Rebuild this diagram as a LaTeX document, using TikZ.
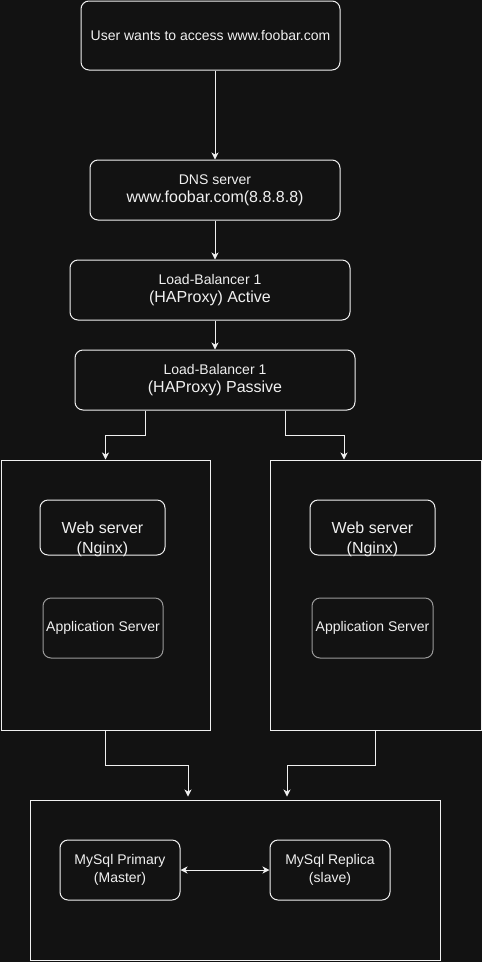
\documentclass[tikz,border=0pt]{standalone}
\usepackage{fontspec}
\setmainfont{Liberation Sans}
\usetikzlibrary{arrows.meta,positioning}
\definecolor{bgdark}{HTML}{121212}
\definecolor{fgline}{HTML}{F0F0F0}
\definecolor{fgdim}{HTML}{9A9A9A}
\newcommand{\lgtxt}[1]{{\fontsize{16}{18}\selectfont #1}}
\tikzset{
	basic/.style  = {draw=fgline, line width=1pt, text=fgline, align=center, inner sep=0pt,
		font=\fontsize{14}{18}\selectfont, rectangle, execute at begin node={\vspace*{4pt}}},
	rbox/.style   = {basic, rounded corners=8pt},
	frame/.style  = {basic},
	appbox/.style = {rbox, draw=fgdim},
	webtext/.style = {draw=none, text=fgline, align=center, yshift=-11.5pt,
		font=\fontsize{16}{20}\selectfont},
	arr/.style    = {->, draw=fgline, line width=1pt}
}

\begin{document}
\begin{tikzpicture}[
x=1pt, y=-1pt,
>={Stealth[length=7pt,width=7pt,inset=2pt]}]

% background and page size
\fill[bgdark] (0,0) rectangle (482,962);
\useasboundingbox (0,0) rectangle (482,962);

% request path
\node[rbox, minimum width=259pt, minimum height=69pt] (user) at (210.5,35.5) {User wants to access www.foobar.com};
\node[rbox, minimum width=250pt, minimum height=60pt] (dns) at (215,190) {DNS server\\\lgtxt{www.foobar.com(8.8.8.8)}};
\node[rbox, minimum width=280pt, minimum height=60pt] (lbact) at (210,290) {Load-Balancer 1\\\lgtxt{(HAProxy) Active}};
\node[rbox, minimum width=280pt, minimum height=60pt] (lbpas) at (215,380) {Load-Balancer 1\\\lgtxt{(HAProxy) Passive}};

% the two server frames
\node[frame, minimum width=209pt, minimum height=270pt] (srvL) at (105.5,595) {};
\node[frame, minimum width=211pt, minimum height=270pt] (srvR) at (375.5,595) {};
\node[rbox, minimum width=125pt, minimum height=55pt,
	label={[webtext]center:{Web server\\(Nginx)}}] (webL) at (102.5,527.5) {};
\node[appbox, minimum width=120pt, minimum height=60pt] (appL) at (103,628) {Application Server};
\node[rbox, minimum width=125pt, minimum height=55pt,
	label={[webtext]center:{Web server\\(Nginx)}}] (webR) at (372.5,527.5) {};
\node[appbox, minimum width=121pt, minimum height=60pt] (appR) at (372.5,628) {Application Server};

% database frame
\node[frame, minimum width=410pt, minimum height=160pt] (db) at (235,880) {};
\node[rbox, minimum width=120pt, minimum height=60pt] (master) at (120,870) {MySql Primary\\(Master)};
\node[rbox, minimum width=120pt, minimum height=60pt] (replica) at (330,870) {MySql Replica\\(slave)};

% connectors
\draw[arr] (user.south -| dns.north) -- (dns.north);
\draw[arr] (dns.south) -- (dns.south |- lbact.north);
\draw[arr] (lbact.south -| lbpas.north) -- (lbpas.north);
\draw[arr] ([xshift=-70pt]lbpas.south) -- ++(0,25) -| (srvL.north);
\draw[arr] ([xshift=70pt]lbpas.south) -- ++(0,25) -| ([xshift=-31.5pt]srvR.north);
\draw[arr] (srvL.south) -- ++(0,35) -| ([xshift=-47pt,yshift=3pt]db.north);
\draw[arr] (srvR.south) -- ++(0,35) -| ([xshift=52pt,yshift=3pt]db.north);
\draw[arr, <->] (master.east) -- (replica.west);

\end{tikzpicture}
\end{document}
